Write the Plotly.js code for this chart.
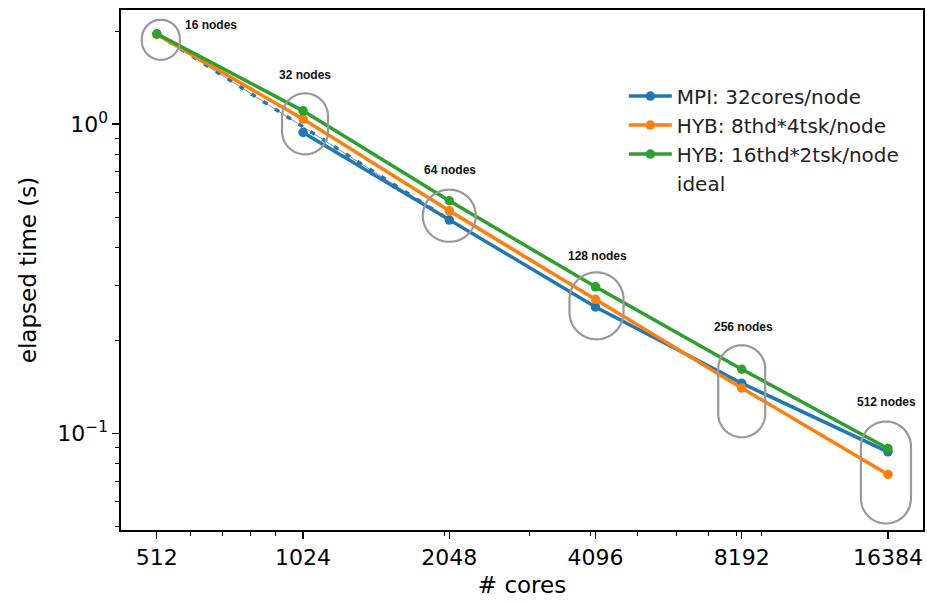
<!DOCTYPE html>
<html>
<head>
<meta charset="utf-8">
<script src="https://cdn.plot.ly/plotly-3.0.1.min.js"></script>
<style>html,body{margin:0;padding:0;background:#fff}#chart{width:927px;height:603px}</style>
</head>
<body>
<div id="chart"></div>
<script>
// ---- data ----
var cores = [512, 1024, 2048, 4096, 8192, 16384];
var nodeLabels = ['16 nodes', '32 nodes', '64 nodes', '128 nodes', '256 nodes', '512 nodes'];
var mpiTime = [null, 0.94, 0.489, 0.256, 0.145, 0.087];
var hyb8x4Time = [1.95, 1.038, 0.524, 0.271, 0.140, 0.0735];
var hyb16x2Time = [1.96, 1.104, 0.565, 0.2975, 0.161, 0.0892];
var idealCores = [512, 1024, 2048];
var idealTime = [1.96, 0.98, 0.49];
var xTickVals = [512, 1024, 2048, 4096, 8192, 16384];
var xTickText = ['512', '1024', '2048', '4096', '8192', '16384'];
var yTickVals = [0.1, 1];
var yTickText = ['10<sup>\u22121</sup>', '10<sup>0</sup>'];
var xMinorVals = [600, 700, 800, 900, 2000, 3000, 4000, 5000, 6000, 7000, 8000, 9000];
var yMinorVals = [0.05, 0.06, 0.07, 0.08, 0.09, 0.2, 0.3, 0.4, 0.5, 0.6, 0.7, 0.8, 0.9, 2];

// ---- styles ----
var BLUE = '#1f77b4', ORANGE = '#ff7f0e', GREEN = '#2ca02c';
var FONT = 'DejaVu Sans, sans-serif';

var traces = [
  {x: idealCores, y: idealTime, mode: 'lines', showlegend: false, hoverinfo: 'skip',
   line: {color: '#4f7597', width: 0.8}},
  {x: idealCores, y: idealTime, mode: 'lines', showlegend: false, hoverinfo: 'skip',
   line: {color: BLUE, width: 3.5, dash: '5px,9px'}},
  {x: cores, y: mpiTime, name: 'MPI: 32cores/node', mode: 'lines+markers',
   line: {color: BLUE, width: 3.5}, marker: {color: BLUE, size: 9.5}},
  {x: cores, y: hyb8x4Time, name: 'HYB: 8thd*4tsk/node', mode: 'lines+markers',
   line: {color: ORANGE, width: 3.5}, marker: {color: ORANGE, size: 9.5}},
  {x: cores, y: hyb16x2Time, name: 'HYB: 16thd*2tsk/node', mode: 'lines+markers',
   line: {color: GREEN, width: 3.5}, marker: {color: GREEN, size: 9.5}},
  {x: [null], y: [null], name: 'ideal', mode: 'lines',
   line: {color: 'rgba(0,0,0,0)', width: 3}}
];

// circle / stadium outlines around each group of points (pixel sizes)
var ring = [
  {dx: 4, dy: 6, w: 38, h: 40},
  {dx: 2, dy: 13, w: 46, h: 61},
  {dx: 0, dy: 15, w: 53, h: 52},
  {dx: 1, dy: 19, w: 54, h: 67},
  {dx: 0, dy: 22, w: 47, h: 92},
  {dx: -2, dy: 24, w: 50, h: 102}
];
var labelOff = [
  {dx: 26, dy: -9}, {dx: -26, dy: -36}, {dx: -27, dy: -31},
  {dx: -30, dy: -31}, {dx: -30, dy: -42}, {dx: -33, dy: -46}
];

function stadiumPath(cx, cy, w, h) {
  var r = Math.min(w, h) / 2;
  var hx = w / 2 - r, hy = h / 2 - r;
  var pts = [];
  var N = 24;
  var centers = [[hx, hy, 0], [-hx, hy, 90], [-hx, -hy, 180], [hx, -hy, 270]];
  centers.forEach(function (c) {
    for (var i = 0; i <= N; i++) {
      var a = (c[2] + 90 * i / N) * Math.PI / 180;
      pts.push([cx + c[0] + r * Math.cos(a), -cy + c[1] + r * Math.sin(a)]);
    }
  });
  return 'M' + pts.map(function (p) { return p[0].toFixed(2) + ',' + p[1].toFixed(2); }).join('L') + 'Z';
}

var shapes = [], annotations = [];
cores.forEach(function (c, i) {
  var yTop = hyb16x2Time[i];
  var g = ring[i];
  shapes.push({
    type: 'path', xref: 'x', yref: 'y', xsizemode: 'pixel', ysizemode: 'pixel',
    xanchor: c, yanchor: yTop,
    path: stadiumPath(g.dx, g.dy, g.w, g.h),
    line: {color: '#999999', width: 2.2}, fillcolor: 'rgba(0,0,0,0)', layer: 'above'
  });
  annotations.push({
    x: Math.log10(c), y: Math.log10(yTop), xref: 'x', yref: 'y',
    text: '<b>' + nodeLabels[i] + '</b>', showarrow: false,
    xanchor: 'left', yanchor: 'middle',
    xshift: labelOff[i].dx, yshift: -labelOff[i].dy,
    font: {family: 'Liberation Sans, Arial, sans-serif', size: 12, color: '#111'}
  });
});

var layout = {
  width: 927, height: 603,
  margin: {l: 121, r: 4, t: 10, b: 73},
  paper_bgcolor: '#fff', plot_bgcolor: '#fff',
  showlegend: true,
  legend: {x: 0.627, y: 0.872, xanchor: 'left', yanchor: 'top', itemwidth: 43,
    font: {family: FONT, size: 20, color: '#222'}, bgcolor: 'rgba(0,0,0,0)', borderwidth: 0},
  xaxis: {
    type: 'log', range: [Math.log10(432), Math.log10(19345)],
    tickmode: 'array', tickvals: xTickVals, ticktext: xTickText,
    ticks: 'outside', ticklen: 7, tickwidth: 1.3, tickcolor: '#000',
    minor: {tickmode: 'array', tickvals: xMinorVals, ticks: 'outside', ticklen: 4, tickwidth: 1, tickcolor: '#000'},
    showgrid: false, zeroline: false, showline: true, linecolor: '#000', linewidth: 1.6, mirror: true,
    tickfont: {family: FONT, size: 22, color: '#000'},
    title: {text: '# cores', font: {family: FONT, size: 23, color: '#000'}, standoff: 8}
  },
  yaxis: {
    type: 'log', range: [Math.log10(0.0486), Math.log10(2.34)],
    tickmode: 'array', tickvals: yTickVals, ticktext: yTickText,
    ticks: 'outside', ticklen: 7, tickwidth: 1.3, tickcolor: '#000',
    minor: {tickmode: 'array', tickvals: yMinorVals, ticks: 'outside', ticklen: 4, tickwidth: 1, tickcolor: '#000'},
    showgrid: false, zeroline: false, showline: true, linecolor: '#000', linewidth: 1.6, mirror: true,
    tickfont: {family: FONT, size: 22, color: '#000'},
    title: {text: 'elapsed time (s)', font: {family: FONT, size: 23, color: '#000'}, standoff: 14}
  },
  shapes: shapes,
  annotations: annotations
};

Plotly.newPlot('chart', traces, layout, {displayModeBar: false, staticPlot: true});
</script>
</body>
</html>
